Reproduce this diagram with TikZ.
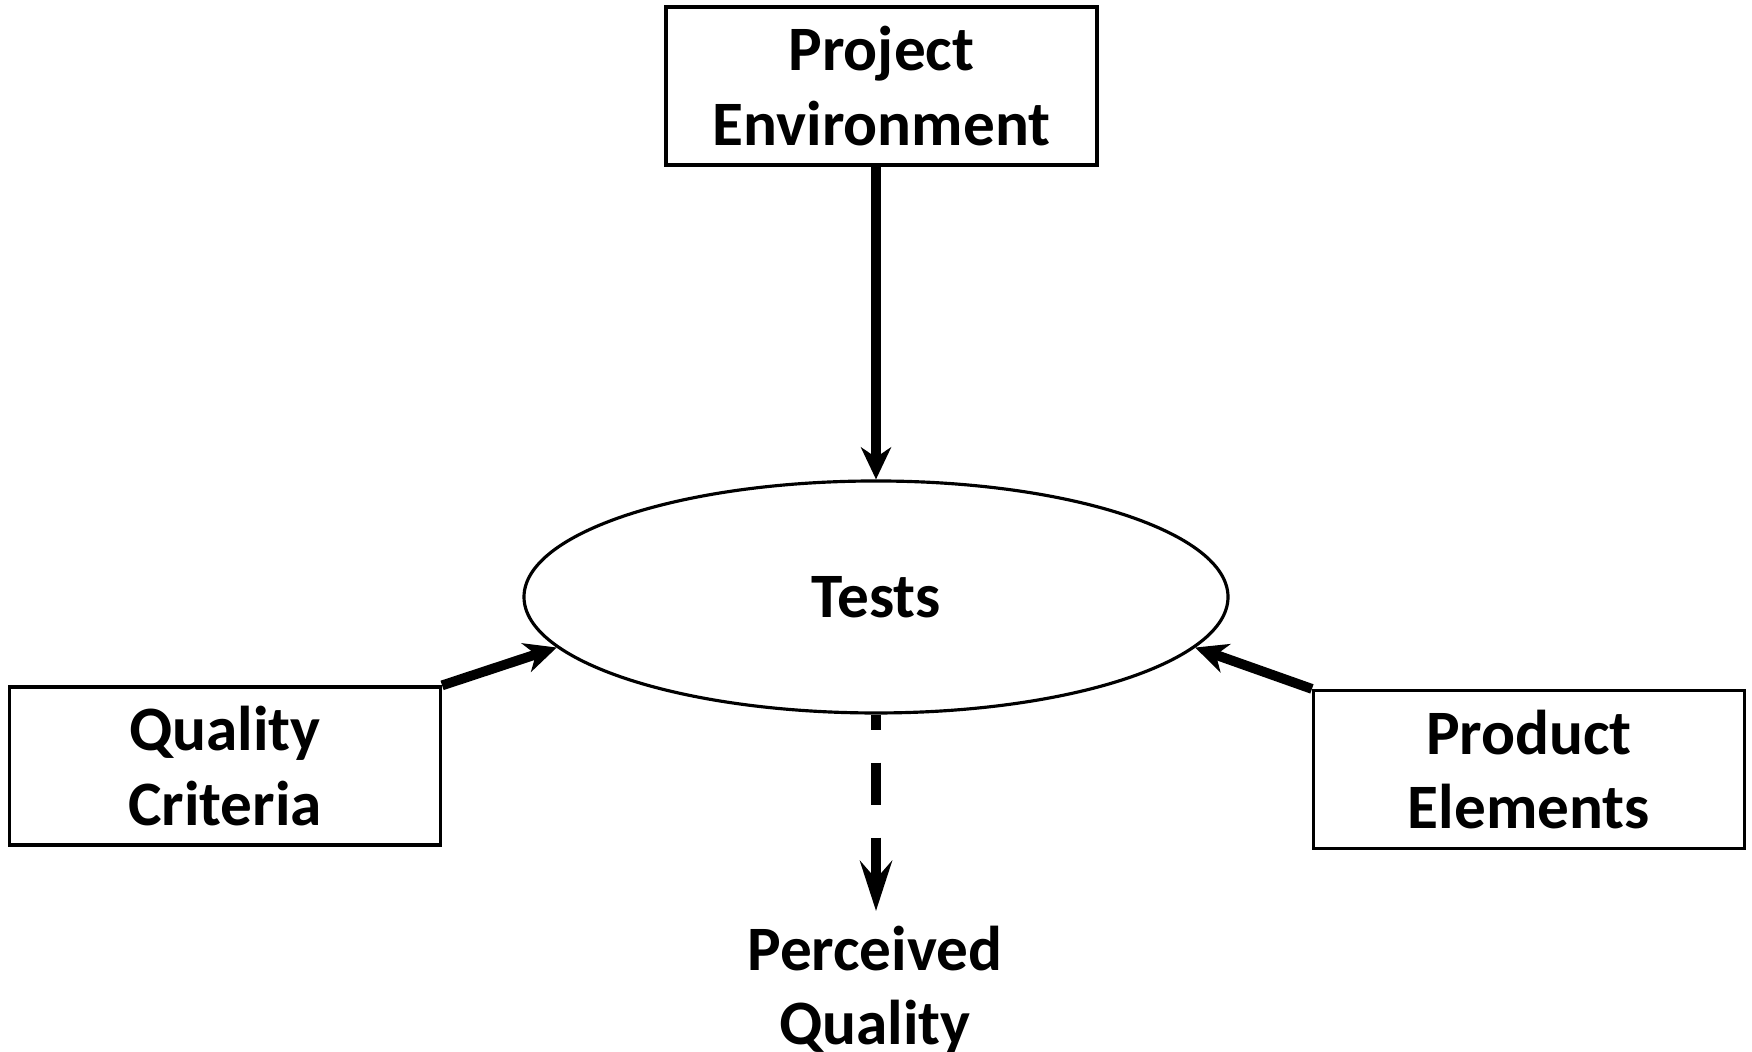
\documentclass[tikz,border=0pt]{standalone}
\usepackage{fontspec}
\setmainfont{Carlito}
\usetikzlibrary{arrows.meta,shapes.geometric}
\begin{document}
\begin{tikzpicture}[
    box/.style={draw,line width=0.9pt,minimum width=4.31cm,minimum height=1.58cm,align=center,inner sep=0pt},
    lbl/.style={font=\fontsize{18}{21.3}\selectfont\bfseries},
    arr/.style={line width=2.8pt,-{Stealth[length=3.2mm,width=3mm,inset=1mm]}}]
    \useasboundingbox (0,0) rectangle (17.52,10.52);
    \node[box,lbl] (env) at (8.815,9.66) {Project\\Environment};
    \node[draw,ellipse,line width=0.9pt,minimum width=7.04cm,minimum height=2.32cm,inner sep=0pt,lbl] (tests) at (8.76,4.55) {Tests};
    \node[box,lbl] (crit) at (2.25,2.86) {Quality\\Criteria};
    \node[box,lbl] (elem) at (15.29,2.825) {Product\\Elements};
    \node[lbl,align=center,anchor=north,inner sep=0pt] (perc) at (8.75,1.27) {Perceived\\Quality};
    \draw[arr] (tests.north |- env.south)--(tests.north);
    \draw[arr] (crit.north east)--(tests.189);
    \draw[arr] (elem.north west)--(tests.351);
    \draw[line width=2.8pt,dash pattern=on 4.2mm off 3.3mm,dash phase=2.7mm,
        -{Stealth[length=5mm,width=3.2mm,inset=1.8mm]}] (tests.south)--(tests.south |- 0,1.41);
\end{tikzpicture}
\end{document}
